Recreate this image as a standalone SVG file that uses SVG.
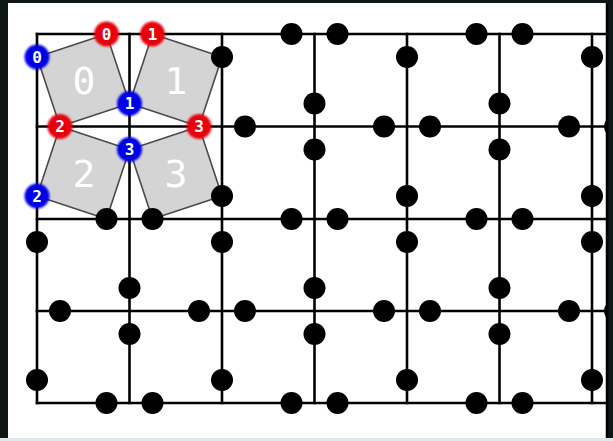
<svg xmlns="http://www.w3.org/2000/svg" width="613" height="441" viewBox="0 0 613 441">
<style>
.grid line{stroke:#000;stroke-width:2.6;stroke-linecap:square}
.tile{fill:#d4d4d4;stroke:#4a4a4a;stroke-width:1.6;stroke-linejoin:round}
.big{font-family:"DejaVu Sans Mono","Liberation Mono",monospace;font-size:38px;fill:#fff;text-anchor:middle}
.dot{fill:#000}
.red{fill:#e8000b;filter:url(#glow)}
.blue{fill:#0000e6;filter:url(#glow)}
.lbl{font-family:"DejaVu Sans Mono","Liberation Mono",monospace;font-size:16px;font-weight:bold;fill:#fff;text-anchor:middle}
</style>
<defs>
<filter id="glow" x="-30%" y="-30%" width="160%" height="160%"><feGaussianBlur stdDeviation="1.1"/></filter>
<clipPath id="area"><rect x="8" y="3" width="598" height="435"/></clipPath>
</defs>
<rect width="613" height="441" fill="#0e1616"/>
<rect x="8" y="3" width="598" height="435" fill="#fff"/>
<rect x="0" y="438" width="613" height="3" fill="#dfe7ea"/>
<line x1="607" y1="3" x2="607" y2="438" stroke="#000" stroke-width="2.5"/>
<g clip-path="url(#area)">
<g id="connectors" class="grid">
<line x1="37" y1="34" x2="620" y2="34"/>
<line x1="37" y1="126.5" x2="620" y2="126.5"/>
<line x1="37" y1="219" x2="620" y2="219"/>
<line x1="37" y1="311" x2="620" y2="311"/>
<line x1="37" y1="403" x2="620" y2="403"/>
<line x1="37" y1="34" x2="37" y2="403"/>
<line x1="129.5" y1="34" x2="129.5" y2="403"/>
<line x1="222" y1="34" x2="222" y2="403"/>
<line x1="314.5" y1="34" x2="314.5" y2="403"/>
<line x1="407" y1="34" x2="407" y2="403"/>
<line x1="499.5" y1="34" x2="499.5" y2="403"/>
<line x1="592" y1="34" x2="592" y2="403"/>
</g>
<g id="tile0"><polygon class="tile" points="37,57 106.5,34 129.5,103.5 60,126.5"/><text class="big" x="84" y="94">0</text></g>
<g id="tile1"><polygon class="tile" points="152.5,34 222,57 199,126.5 129.5,103.5"/><text class="big" x="176" y="94">1</text></g>
<g id="tile2"><polygon class="tile" points="60,126.5 129.5,149.5 106.5,219 37,196"/><text class="big" x="84" y="187">2</text></g>
<g id="tile3"><polygon class="tile" points="129.5,149.5 199,126.5 222,196 152.5,219"/><text class="big" x="176" y="187">3</text></g>
<g id="black-dots" class="dot">
<circle cx="222" cy="57" r="11"/><circle cx="222" cy="196" r="11"/>
<circle cx="106.5" cy="219" r="11"/><circle cx="152.5" cy="219" r="11"/>
<circle cx="291.5" cy="34" r="11"/><circle cx="337.5" cy="34" r="11"/>
<circle cx="476.5" cy="34" r="11"/><circle cx="522.5" cy="34" r="11"/>
<circle cx="407" cy="57" r="11"/><circle cx="407" cy="196" r="11"/>
<circle cx="592" cy="57" r="11"/><circle cx="592" cy="196" r="11"/>
<circle cx="314.5" cy="103.5" r="11"/><circle cx="314.5" cy="149.5" r="11"/>
<circle cx="499.5" cy="103.5" r="11"/><circle cx="499.5" cy="149.5" r="11"/>
<circle cx="245" cy="126.5" r="11"/><circle cx="384" cy="126.5" r="11"/>
<circle cx="430" cy="126.5" r="11"/><circle cx="569" cy="126.5" r="11"/>
<circle cx="615" cy="126.5" r="11"/>
<circle cx="291.5" cy="219" r="11"/><circle cx="337.5" cy="219" r="11"/>
<circle cx="476.5" cy="219" r="11"/><circle cx="522.5" cy="219" r="11"/>
<circle cx="37" cy="242" r="11"/><circle cx="37" cy="380" r="11"/>
<circle cx="222" cy="242" r="11"/><circle cx="222" cy="380" r="11"/>
<circle cx="407" cy="242" r="11"/><circle cx="407" cy="380" r="11"/>
<circle cx="592" cy="242" r="11"/><circle cx="592" cy="380" r="11"/>
<circle cx="129.5" cy="288" r="11"/><circle cx="129.5" cy="334" r="11"/>
<circle cx="314.5" cy="288" r="11"/><circle cx="314.5" cy="334" r="11"/>
<circle cx="499.5" cy="288" r="11"/><circle cx="499.5" cy="334" r="11"/>
<circle cx="60" cy="311" r="11"/><circle cx="199" cy="311" r="11"/>
<circle cx="245" cy="311" r="11"/><circle cx="384" cy="311" r="11"/>
<circle cx="430" cy="311" r="11"/><circle cx="569" cy="311" r="11"/>
<circle cx="615" cy="311" r="11"/>
<circle cx="106.5" cy="403" r="11"/><circle cx="152.5" cy="403" r="11"/>
<circle cx="291.5" cy="403" r="11"/><circle cx="337.5" cy="403" r="11"/>
<circle cx="476.5" cy="403" r="11"/><circle cx="522.5" cy="403" r="11"/>
</g>
<g id="red0"><circle class="red" cx="106.5" cy="34" r="12.5"/><text class="lbl" x="106.5" y="39.5">0</text></g>
<g id="red1"><circle class="red" cx="152.5" cy="34" r="12.5"/><text class="lbl" x="152.5" y="39.5">1</text></g>
<g id="red2"><circle class="red" cx="60" cy="126.5" r="12.5"/><text class="lbl" x="60" y="132">2</text></g>
<g id="red3"><circle class="red" cx="199" cy="126.5" r="12.5"/><text class="lbl" x="199" y="132">3</text></g>
<g id="blue0"><circle class="blue" cx="37" cy="57" r="12.5"/><text class="lbl" x="37" y="62.5">0</text></g>
<g id="blue1"><circle class="blue" cx="129.5" cy="103.5" r="12.5"/><text class="lbl" x="129.5" y="109">1</text></g>
<g id="blue2"><circle class="blue" cx="37" cy="196" r="12.5"/><text class="lbl" x="37" y="201.5">2</text></g>
<g id="blue3"><circle class="blue" cx="129.5" cy="149.5" r="12.5"/><text class="lbl" x="129.5" y="155">3</text></g>
</g>
</svg>
